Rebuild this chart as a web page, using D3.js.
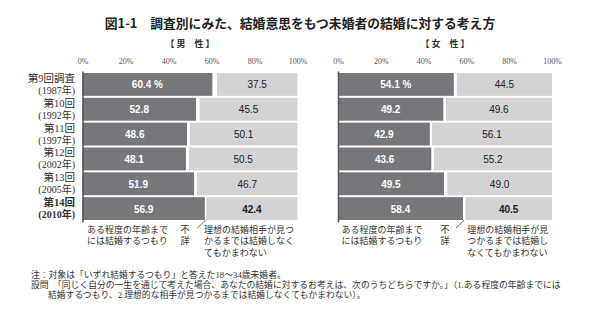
<!DOCTYPE html>
<html>
<head>
<meta charset="utf-8">
<script src="https://cdn.jsdelivr.net/npm/d3@7"></script>
<style>
html,body{margin:0;padding:0;background:#fff;}
svg{display:block;}
</style>
</head>
<body>
<script>
// ---- data ----
const rounds = ["第9回調査", "第10回", "第11回", "第12回", "第13回", "第14回"];
const years = ["(1987年)", "(1992年)", "(1997年)", "(2002年)", "(2005年)", "(2010年)"];
const maleByAge = [60.4, 52.8, 48.6, 48.1, 51.9, 56.9];
const maleIdeal = [37.5, 45.5, 50.1, 50.5, 46.7, 42.4];
const femaleByAge = [54.1, 49.2, 42.9, 43.6, 49.5, 58.4];
const femaleIdeal = [44.5, 49.6, 56.1, 55.2, 49.0, 40.5];
const tickValues = [0, 20, 40, 60, 80, 100];
const panelTitles = ["【 男　性 】", "【 女　性 】"];
const annotByAge = ["ある程度の年齢まで", "には結婚するつもり"];
const annotIdealMale = ["理想の結婚相手が見つ", "かるまでは結婚しなく", "てもかまわない"];
const annotIdealFemale = ["理想の結婚相手が見", "つかるまでは結婚し", "なくてもかまわない"];
const annotUnknown = ["不", "詳"];
const title = "図1-1　調査別にみた、結婚意思をもつ未婚者の結婚に対する考え方";
const notes = [
  "注：対象は「いずれ結婚するつもり」と答えた18～34歳未婚者。",
  "設問　「同じく自分の一生を通じて考えた場合、あなたの結婚に対するお考えは、次のうちどちらですか。」（1.ある程度の年齢までには",
  "結婚するつもり、2.理想的な相手が見つかるまでは結婚しなくてもかまわない）。"
];

const W = 600, H = 322;
const JP = "'Noto Sans CJK JP', sans-serif";
const JPS = "'Liberation Serif', 'Noto Sans CJK JP', serif";
const DARK = "#76777b", LIGHT = "#d3d3d5";

const svg = d3.select("body").append("svg").attr("width", W).attr("height", H)
  .style("font-family", JP);
svg.append("rect").attr("width", W).attr("height", H).attr("fill", "#fff");

svg.append("text").attr("x", 300).attr("y", 22.5).attr("text-anchor", "middle")
  .attr("dominant-baseline", "central").attr("font-size", 12.8).attr("font-weight", 700)
  .attr("fill", "#222").text(title);

const y = d3.scaleBand().domain(rounds).range([73, 220]).paddingInner(0.08).paddingOuter(0);

// one text element per line
function multiText(parent, lines, x, y0, lh, opts) {
  lines.forEach((s, k) => {
    parent.append("text").attr("x", Array.isArray(x) ? x[k] : x).attr("y", y0 + k * lh)
      .attr("text-anchor", opts.anchor || "start").attr("dominant-baseline", "central")
      .attr("font-family", opts.family || JPS)
      .attr("font-size", opts.sizes ? opts.sizes[k] : opts.size).attr("fill", opts.fill || "#333")
      .attr("font-weight", opts.weight || 400).text(s);
  });
}

function panel(x0, x1, byAge, ideal, ptitle, annotIdeal, annX) {
  const x = d3.scaleLinear().domain([0, 100]).range([x0, x1]);
  const g = svg.append("g");
  g.append("text").attr("x", (x0 + x1) / 2).attr("y", 43.5).attr("text-anchor", "middle")
    .attr("dominant-baseline", "central").attr("font-size", 9).attr("font-weight", 700)
    .attr("fill", "#333").text(ptitle);
  // top axis labels
  const ax = g.append("g").attr("transform", "translate(0,67)")
    .call(d3.axisTop(x).tickValues(tickValues).tickSize(0).tickFormat(d => d + "%"));
  ax.select(".domain").remove();
  ax.selectAll("text").attr("font-family", "'Liberation Serif', serif").attr("font-size", 8)
    .attr("fill", "#555");
  // bars
  g.selectAll("rect.a").data(rounds).join("rect")
    .attr("x", x(0)).attr("y", d => y(d))
    .attr("width", (d, i) => x(byAge[i]) - x(0)).attr("height", y.bandwidth())
    .attr("fill", DARK);
  g.selectAll("rect.b").data(rounds).join("rect").attr("class", "b")
    .attr("x", (d, i) => x(100 - ideal[i])).attr("y", d => y(d))
    .attr("width", (d, i) => x(100) - x(100 - ideal[i])).attr("height", y.bandwidth())
    .attr("fill", LIGHT);
  // left axis line
  const al = g.append("g").attr("transform", `translate(${x0},0)`)
    .call(d3.axisLeft(d3.scaleLinear().range([71, 222])).ticks(0).tickSize(0).tickSizeOuter(0));
  al.selectAll("text").remove();
  al.select(".domain").attr("stroke", "#555").attr("stroke-width", 1.5);
  // value labels
  const fmt = d3.format(".1f");
  g.selectAll("text.va").data(rounds).join("text").attr("class", "va")
    .attr("x", (d, i) => (x(0) + x(byAge[i])) / 2).attr("y", d => y(d) + y.bandwidth() / 2 + 0.5)
    .attr("text-anchor", "middle").attr("dominant-baseline", "central")
    .attr("font-family", "'Liberation Sans', Arial, sans-serif").attr("font-size", 10)
    .attr("font-weight", 700).attr("fill", "#fff")
    .text((d, i) => fmt(byAge[i]) + (i === 0 ? " %" : ""));
  g.selectAll("text.vb").data(rounds).join("text").attr("class", "vb")
    .attr("x", (d, i) => (x(100 - ideal[i]) + x(100)) / 2).attr("y", d => y(d) + y.bandwidth() / 2 + 0.5)
    .attr("text-anchor", "middle").attr("dominant-baseline", "central")
    .attr("font-family", "'Liberation Sans', Arial, sans-serif").attr("font-size", 10)
    .attr("font-weight", (d, i) => i === rounds.length - 1 ? 700 : 400).attr("fill", "#222")
    .text((d, i) => fmt(ideal[i]));
  // annotations
  const last = rounds.length - 1;
  const gapX = (x(byAge[last]) + x(100 - ideal[last])) / 2;
  const by = y(rounds[last]) + y.bandwidth();
  g.append("line").attr("x1", gapX).attr("y1", by).attr("x2", gapX - 8).attr("y2", by + 8)
    .attr("stroke", "#444").attr("stroke-width", 0.8);
  multiText(g, annotByAge, x0 + annX[0], 229.5, 11.7, { size: 9 });
  multiText(g, annotUnknown, annX[1], 229.5, 11.7, { size: 9, anchor: "middle" });
  multiText(g, annotIdeal, gapX + annX[2], 229.5, 11.7, { size: 9 });
}

panel(82.5, 297.5, maleByAge, maleIdeal, panelTitles[0], annotIdealMale, [4.5, 185, -1.5]);
panel(338, 552, femaleByAge, femaleIdeal, panelTitles[1], annotIdealFemale, [3.5, 445, 3]);

// category labels
rounds.forEach((r, i) => {
  const cy = y(r) + y.bandwidth() / 2;
  const bold = i === rounds.length - 1;
  multiText(svg, [r, years[i]], 75, cy - 6, 12,
    { sizes: [10.5, 10], anchor: "end", weight: bold ? 700 : 400 });
});

// notes
multiText(svg, notes, [31, 31, 48], 274.5, 10, { size: 8.8 });
</script>
</body>
</html>
